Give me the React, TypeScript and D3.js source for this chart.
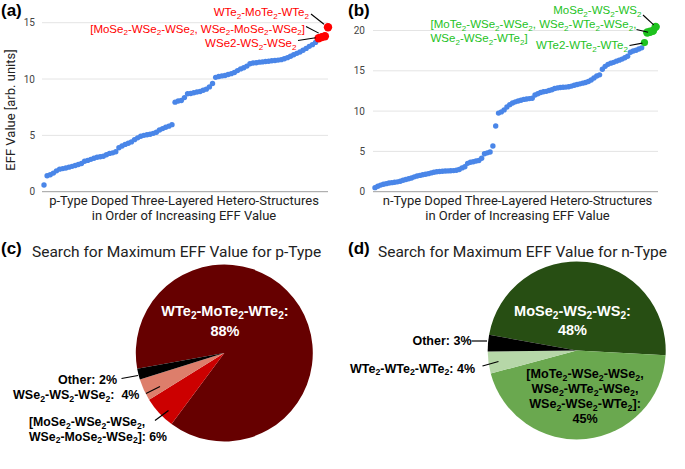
import React from "react";
import * as d3 from "d3";

// ---------- DATA ----------
// (a) p-type EFF values in increasing order (blue), then the highlighted top structures (red)
const pTypeValues = [
  0.6, 1.42, 1.5, 1.65, 1.85, 2.0, 2.05, 2.1, 2.18, 2.25,
  2.33, 2.42, 2.5, 2.7, 2.78, 2.87, 2.97, 3.06, 3.1, 3.15,
  3.28, 3.4, 3.45, 3.55, 3.9, 4.05, 4.2, 4.3, 4.42, 4.62,
  4.78, 4.92, 5.0, 5.05, 5.1, 5.18, 5.28, 5.48, 5.6, 5.72,
  5.82, 5.95, 7.95, 8.05, 8.1, 8.35, 8.7, 8.72, 8.78, 8.85,
  8.9, 9.0, 9.1, 9.3, 9.6, 10.15, 10.22, 10.28, 10.32, 10.4,
  10.48, 10.58, 10.75, 10.9, 11.0, 11.15, 11.35, 11.42, 11.45, 11.5,
  11.52, 11.55, 11.58, 11.62, 11.65, 11.68, 11.72, 11.8, 11.9, 12.02,
  12.15, 12.28, 12.4, 12.55, 12.72, 12.9, 13.05, 13.25,
];
const pTypeTopValues = [13.62, 13.72, 13.8, 14.6];
const pTypeTopLabels = [
  "WTe_2-MoTe_2-WTe_2",
  "[MoSe_2-WSe_2-WSe_2, WSe_2-MoSe_2-WSe_2]",
  "WSe2-WS_2-WSe_2",
];

// (b) n-type EFF values in increasing order (blue), then highlighted top structures (green)
const nTypeValues = [
  0.5, 0.68, 0.82, 0.92, 1.0, 1.08, 1.12, 1.17, 1.22, 1.3,
  1.42, 1.52, 1.6, 1.7, 1.84, 1.95, 2.02, 2.1, 2.17, 2.24,
  2.33, 2.42, 2.47, 2.5, 2.53, 2.56, 2.58, 2.6, 2.62, 2.66,
  2.75, 2.95, 3.1, 3.52, 3.65, 3.72, 3.8, 3.88, 4.15, 4.7,
  4.82, 4.92, 5.67, 8.15, 9.75, 9.9, 10.15, 10.5, 10.8, 11.0,
  11.15, 11.25, 11.35, 11.45, 11.5, 11.55, 11.6, 12.0, 12.15, 12.3,
  12.4, 12.45, 12.55, 12.65, 12.8, 12.88, 12.92, 12.95, 12.98, 13.02,
  13.1, 13.2, 13.3, 13.38, 13.47, 13.55, 13.68, 13.85, 14.1, 14.35,
  14.5, 15.2, 15.55, 15.8, 15.95, 16.05, 16.2, 16.32, 16.45, 16.62,
  16.8, 17.3, 17.45, 17.55, 17.7, 17.85,
];
const nTypeTopValues = [18.5, 19.75, 19.85, 19.95, 20.45];
const nTypeTopLabels = [
  "MoSe_2-WS_2-WS_2",
  "[MoTe_2-WSe_2-WSe_2, WSe_2-WTe_2-WSe_2,",
  "WSe_2-WSe_2-WTe_2]",
  "WTe2-WTe_2-WTe_2",
];

const pTicks = [0, 5, 10, 15];
const nTicks = [0, 5, 10, 15, 20];

// (c) pie p-type
const pieCNames = ["WTe_2-MoTe_2-WTe_2", "MoSe group", "WSe_2-WS_2-WSe_2", "Other"];
const pieCValues = [88, 6, 4, 2];
const pieCColors = ["#660000", "#cc0000", "#dd7e6b", "#000000"];

// (d) pie n-type
const pieDNames = ["MoSe_2-WS_2-WS_2", "MoTe group", "WTe_2-WTe_2-WTe_2", "Other"];
const pieDValues = [48, 45, 4, 3];
const pieDColors = ["#274e13", "#6aa84f", "#b6d7a8", "#000000"];

// ---------- HELPERS ----------
const ARIAL = "'Liberation Sans', Arial, sans-serif";
const ROBOTO = "Roboto, 'Liberation Sans', Arial, sans-serif";

type RichProps = {
  x: number; y: number; text: string; size: number;
  anchor?: "start" | "middle" | "end"; weight?: string | number;
  fill?: string; family?: string;
};
function Rich({ x, y, text, size, anchor = "start", weight = "normal", fill = "#000", family = ARIAL }: RichProps) {
  const parts = text.split(/(_\d)/).filter((p) => p.length > 0);
  const shift = size * 0.22;
  let inSub = false;
  const spans = parts.map((p, i) => {
    if (p.startsWith("_")) {
      const dy = inSub ? 0 : shift;
      inSub = true;
      return (
        <tspan key={i} dy={dy} fontSize={size * 0.7}>{p.slice(1)}</tspan>
      );
    }
    const dy = inSub ? -shift : 0;
    inSub = false;
    return <tspan key={i} dy={dy}>{p}</tspan>;
  });
  return (
    <text x={x} y={y} fontSize={size} textAnchor={anchor} fontWeight={weight}
      fill={fill} fontFamily={family} style={{ whiteSpace: "pre" }}>
      {spans}
    </text>
  );
}

// ---------- PANEL (a) ----------
function PanelA() {
  const total = pTypeValues.length + pTypeTopValues.length;
  const x = d3.scaleLinear().domain([0, total - 1]).range([44, 328]);
  const y = d3.scaleLinear().domain([0, 15]).range([191.7, 22.7]);
  const topIdx = (k: number) => pTypeValues.length + k;
  const red = "#ff0000";
  return (
    <g>
      {pTicks.map((t) => (
        <g key={t}>
          <line x1={42} x2={328} y1={y(t)} y2={y(t)} stroke={t === 0 ? "#9e9e9e" : "#e4e4e4"} strokeWidth={1} />
          <text x={35} y={y(t) + 3.5} textAnchor="end" fontSize={10} fill="#444" fontFamily={ROBOTO}>{t}</text>
        </g>
      ))}
      {pTypeValues.map((v, i) => (
        <circle key={i} cx={x(i)} cy={y(v)} r={2.7} fill="#4a86e8" />
      ))}
      {pTypeTopValues.map((v, k) => (
        <circle key={k} cx={x(topIdx(k))} cy={y(v)} r={4.2} fill={red} />
      ))}
      {/* leader lines */}
      <line x1={311} y1={14} x2={x(topIdx(3)) - 4} y2={y(pTypeTopValues[3]) - 3} stroke="#000" strokeWidth={1.1} />
      <line x1={306} y1={26.5} x2={x(topIdx(1)) - 3} y2={y(pTypeTopValues[1]) - 4} stroke="#000" strokeWidth={1.1} />
      <line x1={298} y1={40.5} x2={x(topIdx(0)) - 3} y2={y(pTypeTopValues[0]) - 0.5} stroke="#000" strokeWidth={1.1} />
      <Rich x={309} y={16} text={pTypeTopLabels[0]} size={11.5} anchor="end" fill={red} />
      <Rich x={305} y={32.5} text={pTypeTopLabels[1]} size={11.5} anchor="end" fill={red} />
      <Rich x={296.5} y={47} text={pTypeTopLabels[2]} size={11.5} anchor="end" fill={red} />
      {/* axis titles */}
      <text x={184} y={205} textAnchor="middle" fontSize={13} fill="#222" fontFamily={ROBOTO}>p-Type Doped Three-Layered Hetero-Structures</text>
      <text x={184} y={220} textAnchor="middle" fontSize={13} fill="#222" fontFamily={ROBOTO}>in Order of Increasing EFF Value</text>
      <text transform="translate(14.5,110) rotate(-90)" textAnchor="middle" fontSize={13} fill="#222" fontFamily={ROBOTO}>EFF Value [arb. units]</text>
      <text x={1} y={16} fontSize={17} fontWeight="bold" fontFamily={ARIAL}>(a)</text>
    </g>
  );
}

// ---------- PANEL (b) ----------
function PanelB() {
  const total = nTypeValues.length + nTypeTopValues.length;
  const x = d3.scaleLinear().domain([0, total - 1]).range([375, 655.7]);
  const y = d3.scaleLinear().domain([0, 20]).range([191.7, 30.5]);
  const topIdx = (k: number) => nTypeValues.length + k;
  const green = "#1ec21e";
  return (
    <g>
      {nTicks.map((t) => (
        <g key={t}>
          <line x1={373} x2={658} y1={y(t)} y2={y(t)} stroke={t === 0 ? "#9e9e9e" : "#e4e4e4"} strokeWidth={1} />
          <text x={365} y={y(t) + 3.5} textAnchor="end" fontSize={10} fill="#444" fontFamily={ROBOTO}>{t}</text>
        </g>
      ))}
      {nTypeValues.map((v, i) => (
        <circle key={i} cx={x(i)} cy={y(v)} r={2.7} fill="#4a86e8" />
      ))}
      {nTypeTopValues.map((v, k) => (
        <circle key={k} cx={x(topIdx(k))} cy={y(v)} r={k === 0 ? 3.6 : 4.2} fill={green} />
      ))}
      <line x1={643} y1={15} x2={x(topIdx(4)) - 2} y2={y(nTypeTopValues[4]) - 2} stroke="#000" strokeWidth={1.1} />
      <line x1={636.5} y1={29.5} x2={x(topIdx(2)) - 2} y2={y(nTypeTopValues[2]) + 0.5} stroke="#000" strokeWidth={1.1} />
      <line x1={629.5} y1={45.5} x2={x(topIdx(0)) - 2} y2={y(nTypeTopValues[0]) + 0.5} stroke="#000" strokeWidth={1.1} />
      <Rich x={641.5} y={14} text={nTypeTopLabels[0]} size={11.5} anchor="end" fill={green} />
      <Rich x={430.5} y={28} text={nTypeTopLabels[1]} size={11.5} anchor="start" fill={green} />
      <Rich x={430.5} y={42} text={nTypeTopLabels[2]} size={11.5} anchor="start" fill={green} />
      <Rich x={628} y={49} text={nTypeTopLabels[3]} size={11.5} anchor="end" fill={green} />
      <text x={517.5} y={205} textAnchor="middle" fontSize={13} fill="#222" fontFamily={ROBOTO}>n-Type Doped Three-Layered Hetero-Structures</text>
      <text x={517.5} y={220} textAnchor="middle" fontSize={13} fill="#222" fontFamily={ROBOTO}>in Order of Increasing EFF Value</text>
      <text x={348} y={16} fontSize={17} fontWeight="bold" fontFamily={ARIAL}>(b)</text>
    </g>
  );
}

// ---------- PIES ----------
const deg = (a: number) => (a * Math.PI) / 180;

function PanelC() {
  const cx = 224.3, cy = 353, r = 88.5;
  const start = deg(259.8);
  const pie = d3.pie<number>().sort(null).startAngle(start).endAngle(start + 2 * Math.PI);
  const arc = d3.arc<d3.PieArcDatum<number>>().innerRadius(0).outerRadius(r);
  const arcs = pie(pieCValues);
  return (
    <g>
      <text x={1} y={254} fontSize={17} fontWeight="bold" fontFamily={ARIAL}>(c)</text>
      <text x={32} y={257} fontSize={15.5} fill="#222" fontFamily={ROBOTO}>Search for Maximum EFF Value for p-Type</text>
      <g transform={`translate(${cx},${cy})`}>
        {arcs.map((a, i) => (
          <path key={i} d={arc(a) || ""} fill={pieCColors[i]} />
        ))}
      </g>
      <Rich x={225} y={316} text={pieCNames[0] + ":"} size={14.5} anchor="middle" weight="bold" fill="#fff" />
      <Rich x={225} y={335.5} text={`${pieCValues[0]}%`} size={14.5} anchor="middle" weight="bold" fill="#fff" />
      <line x1={121.5} y1={378.5} x2={138} y2={375.5} stroke="#000" strokeWidth={1.2} />
      <line x1={146} y1={393.5} x2={160} y2={386.5} stroke="#000" strokeWidth={1.2} />
      <line x1={155} y1={420.5} x2={168.5} y2={410.5} stroke="#000" strokeWidth={1.2} />
      <Rich x={117} y={383.5} text={`${pieCNames[3]}: ${pieCValues[3]}%`} size={12.5} anchor="end" weight="bold" />
      <Rich x={139.5} y={399} text={`${pieCNames[2]}:  ${pieCValues[2]}%`} size={12.5} anchor="end" weight="bold" />
      <Rich x={29} y={426} text="[MoSe_2-WSe_2-WSe_2," size={12.3} anchor="start" weight="bold" />
      <Rich x={29} y={440.5} text={`WSe_2-MoSe_2-WSe_2]: ${pieCValues[1]}%`} size={12.3} anchor="start" weight="bold" />
    </g>
  );
}

function PanelD() {
  const cx = 576.7, cy = 350.5, r = 89;
  const start = deg(280.2);
  const pie = d3.pie<number>().sort(null).startAngle(start).endAngle(start + 2 * Math.PI);
  const arc = d3.arc<d3.PieArcDatum<number>>().innerRadius(0).outerRadius(r);
  const arcs = pie(pieDValues);
  return (
    <g>
      <text x={348} y={254} fontSize={17} fontWeight="bold" fontFamily={ARIAL}>(d)</text>
      <text x={378} y={257} fontSize={15.5} fill="#222" fontFamily={ROBOTO}>Search for Maximum EFF Value for n-Type</text>
      <g transform={`translate(${cx},${cy})`}>
        {arcs.map((a, i) => (
          <path key={i} d={arc(a) || ""} fill={pieDColors[i]} />
        ))}
      </g>
      <Rich x={572.5} y={316} text={pieDNames[0] + ":"} size={14.5} anchor="middle" weight="bold" fill="#fff" />
      <Rich x={572.5} y={334.5} text={`${pieDValues[0]}%`} size={14.5} anchor="middle" weight="bold" fill="#fff" />
      <Rich x={585} y={378} text="[MoTe_2-WSe_2-WSe_2," size={12.6} anchor="middle" weight="bold" />
      <Rich x={585} y={393} text="WSe_2-WTe_2-WSe_2," size={12.6} anchor="middle" weight="bold" />
      <Rich x={585} y={408} text="WSe_2-WSe_2-WTe_2]:" size={12.6} anchor="middle" weight="bold" />
      <Rich x={585} y={423} text={`${pieDValues[1]}%`} size={12.6} anchor="middle" weight="bold" />
      <line x1={471.5} y1={341} x2={487} y2={341} stroke="#000" strokeWidth={1.2} />
      <line x1={482.5} y1={366} x2={498.5} y2={361.5} stroke="#000" strokeWidth={1.2} />
      <Rich x={471.5} y={344.5} text={`${pieDNames[3]}: ${pieDValues[3]}%`} size={12.5} anchor="end" weight="bold" />
      <Rich x={475} y={372.5} text={`${pieDNames[2]}: ${pieDValues[2]}%`} size={12.5} anchor="end" weight="bold" />
    </g>
  );
}

export default function App() {
  return (
    <svg width={685} height={469} viewBox="0 0 685 469"
      style={{ position: "absolute", left: 0, top: 0, display: "block", background: "#fff" }}>
      <rect x={0} y={0} width={685} height={469} fill="#fff" />
      <PanelA />
      <PanelB />
      <PanelC />
      <PanelD />
    </svg>
  );
}
